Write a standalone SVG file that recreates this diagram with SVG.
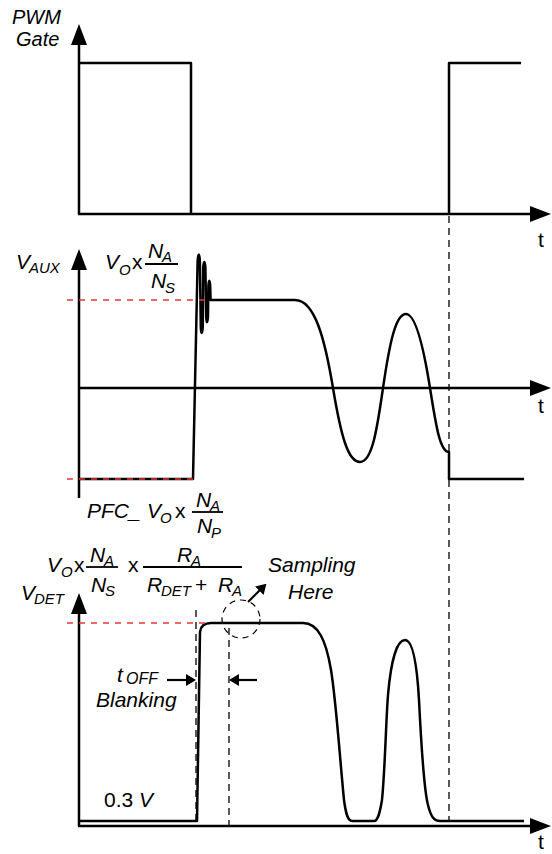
<svg xmlns="http://www.w3.org/2000/svg" width="552" height="854" viewBox="0 0 552 854">
<defs>
<style>
.ax{fill:none;stroke:#000;stroke-width:2.5}
.wf{fill:none;stroke:#000;stroke-width:2.5;stroke-linejoin:round}
.gd{fill:none;stroke:#000;stroke-width:1.3;stroke-dasharray:7 5}
.rd{fill:none;stroke:#e53935;stroke-width:1.4;stroke-dasharray:6 6}
.fr{stroke:#000;stroke-width:1.8}
.circ{fill:none;stroke:#000;stroke-width:1.2;stroke-dasharray:6 5}
.ar{fill:none;stroke:#000;stroke-width:2.2}
text{font-family:"Liberation Sans",Arial,sans-serif;fill:#000}
.it{font-size:21px;font-style:italic}
.sb{font-size:15px;font-style:italic}
.rg{font-size:21px}
</style>
<marker id="axh" viewBox="0 0 21 16" refX="1" refY="8" markerWidth="21" markerHeight="16" markerUnits="userSpaceOnUse" orient="auto">
<path d="M0,0 L21,8 L0,16 z" fill="#000"/>
</marker>
<marker id="sah" viewBox="0 0 10 12" refX="1" refY="6" markerWidth="10" markerHeight="12" markerUnits="userSpaceOnUse" orient="auto">
<path d="M0,0 L10,6 L0,12 z" fill="#000"/>
</marker>
</defs>

<g id="pwm-panel">
<line class="ax" x1="79" y1="214" x2="79" y2="44" marker-end="url(#axh)"/>
<line class="ax" x1="78" y1="214" x2="531" y2="214" marker-end="url(#axh)"/>
<path class="wf" d="M79,63 H191 V214"/>
<path class="wf" d="M449,214 V63 H521"/>
<text class="it" x="12" y="24" style="font-size:20px">PWM</text>
<text class="it" x="16" y="46" style="font-size:20px">Gate</text>
<text class="rg" x="538" y="247">t</text>
</g>

<g id="vaux-panel">
<line class="ax" x1="79" y1="498" x2="79" y2="269" marker-end="url(#axh)"/>
<line class="ax" x1="79" y1="388" x2="531" y2="388" marker-end="url(#axh)"/>
<path class="wf" d="M79,479 H193 L197.6,262 C198,252 199.6,252 199.9,262 L200.8,327 C201.2,335 202.4,335 202.8,326 L203.2,268 C203.6,260 205,260 205.4,268 L206.2,317 C206.6,324 207.6,324 208,316 L208.4,286 C208.8,279 209.8,279 210.2,286 L210.6,300 H295 C315,300 325,340 333,388 C341,436 348,462 360,462 C372,462 377,430 383,388 C390,340 396,314 406,314 C416,314 424,350 430,388 C436,426 440,452 449,452 V479 H524"/>
<line class="rd" x1="67" y1="300" x2="208" y2="300"/>
<line class="rd" x1="67" y1="479" x2="193" y2="479"/>
<text class="it" x="16" y="269">V</text><text class="sb" x="29" y="273">AUX</text>
<text class="it" x="105" y="269">V</text><text class="sb" x="119" y="275">O</text>
<text class="rg" x="132" y="269">x</text>
<text class="it" x="148" y="258">N</text><text class="sb" x="162" y="262">A</text>
<line class="fr" x1="145" y1="264" x2="178" y2="264"/>
<text class="it" x="151" y="288">N</text><text class="sb" x="165" y="293">S</text>
<text class="rg" x="538" y="413">t</text>
<text class="it" x="87" y="518">PFC_</text>
<text class="it" x="147" y="518">V</text><text class="sb" x="160" y="523">O</text>
<text class="rg" x="175" y="518">x</text>
<text class="it" x="196" y="507">N</text><text class="sb" x="210" y="511">A</text>
<line class="fr" x1="192" y1="512" x2="223" y2="512"/>
<text class="it" x="197" y="533">N</text><text class="sb" x="211" y="538">P</text>
</g>

<g id="vdet-panel">
<line class="ax" x1="79" y1="826" x2="79" y2="613" marker-end="url(#axh)"/>
<line class="ax" x1="78" y1="826" x2="531" y2="826" marker-end="url(#axh)"/>
<path class="wf" d="M79,821 H197 L200,632 Q201,623 211,623 H303 C318,623 326,640 331,670 C336,700 340,760 344,800 C346,815 348,821 352,821 H374 C378,821 380,812 382,800 C385,770 386,720 388,695 C391,660 397,640 405,640 C413,640 417,665 419,700 C421,740 424,790 428,805 C431,817 434,821 440,821 H524"/>
<line class="rd" x1="67" y1="623" x2="211" y2="623"/>
<circle class="circ" cx="241" cy="619" r="19"/>
<line class="ar" x1="248" y1="602" x2="260" y2="590" marker-end="url(#sah)"/>
<line class="ar" x1="167" y1="680" x2="187" y2="680" marker-end="url(#sah)"/>
<line class="ar" x1="257" y1="680" x2="238" y2="680" marker-end="url(#sah)"/>
<text class="it" x="47" y="572">V</text><text class="sb" x="61" y="577">O</text>
<text class="rg" x="74" y="572">x</text>
<text class="it" x="90" y="562">N</text><text class="sb" x="104" y="566">A</text>
<line class="fr" x1="86" y1="567" x2="118" y2="567"/>
<text class="it" x="91" y="592">N</text><text class="sb" x="105" y="596">S</text>
<text class="rg" x="128" y="572">x</text>
<text class="it" x="177" y="562">R</text><text class="sb" x="191" y="566">A</text>
<line class="fr" x1="143" y1="567" x2="242" y2="567"/>
<text class="it" x="147" y="592">R</text><text class="sb" x="161" y="596">DET</text>
<text class="rg" x="195" y="592">+</text>
<text class="it" x="218" y="592">R</text><text class="sb" x="232" y="596">A</text>
<text class="it" x="21" y="600">V</text><text class="sb" x="34" y="604">DET</text>
<text class="it" x="268" y="572">Sampling</text>
<text class="it" x="288" y="599">Here</text>
<text class="it" x="117" y="682">t</text><text class="sb" x="126" y="684" style="font-size:16px">OFF</text>
<text class="it" x="96" y="707">Blanking</text>
<text class="rg" x="104" y="807">0.3 <tspan font-style="italic">V</tspan></text>
<text class="rg" x="538" y="849">t</text>
</g>

<g id="connectors">
<line class="gd" x1="449" y1="216" x2="449" y2="821"/>
<line class="gd" x1="196" y1="610" x2="196" y2="826"/>
<line class="gd" x1="229" y1="628" x2="229" y2="826"/>
</g>
</svg>
